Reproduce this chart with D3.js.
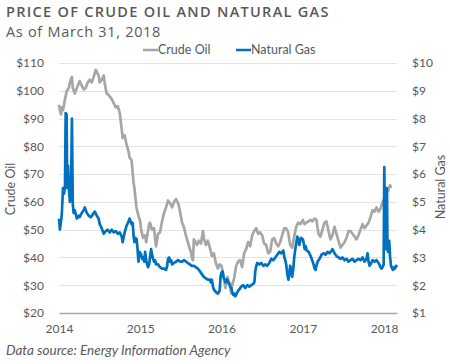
<!DOCTYPE html>
<html>
<head>
<meta charset="utf-8">
<script src="https://cdn.jsdelivr.net/npm/d3@7"></script>
<style>
  body { margin: 0; background: #fff; }
  text { font-family: Lato, "Open Sans", sans-serif; fill: #595959; }
</style>
</head>
<body>
<div id="chart"></div>
<script>
// weekly-ish readings, $ per barrel
var crudeOil = [
  ["2014-01-01",95],["2014-01-05",93],["2014-01-10",91.5],["2014-01-14",94],["2014-01-19",93],["2014-01-28",97],
  ["2014-02-05",100],["2014-02-14",101],["2014-02-19",103],["2014-02-28",105],["2014-03-04",101],["2014-03-13",99],
  ["2014-03-22",101],["2014-04-04",103.5],["2014-04-13",102],["2014-04-22",100.5],["2014-05-01",101],["2014-05-10",103],
  ["2014-05-19",104],["2014-05-28",103],["2014-06-06",105],["2014-06-15",107.5],["2014-06-19",107],["2014-06-28",105.5],
  ["2014-07-03",103],["2014-07-12",104],["2014-07-21",105.5],["2014-07-25",103],["2014-08-03",99],["2014-08-12",98.5],
  ["2014-08-26",97],["2014-09-04",95.5],["2014-09-13",94],["2014-09-22",94.5],["2014-10-01",92],["2014-10-10",86],
  ["2014-10-14",83],["2014-10-23",84],["2014-11-01",80.5],["2014-11-10",78],["2014-11-14",76],["2014-11-23",75],
  ["2014-12-02",67],["2014-12-06",65],["2014-12-15",58],["2014-12-24",55],
  ["2015-01-01",53],["2015-01-05",50],["2015-01-14",47],["2015-01-23",48],["2015-01-28",45.5],["2015-02-01",47.5],
  ["2015-02-10",52],["2015-02-14",52.5],["2015-02-23",50],["2015-03-04",50.5],["2015-03-13",44],["2015-03-22",48.5],
  ["2015-03-31",49],["2015-04-09",53],["2015-04-18",56],["2015-04-27",58],["2015-05-06",60.5],["2015-05-15",59.5],
  ["2015-05-24",58],["2015-06-02",60],["2015-06-11",61],["2015-06-20",59.5],["2015-06-24",58.5],["2015-06-29",56.5],
  ["2015-07-08",52.5],["2015-07-16",51],["2015-07-25",48],["2015-08-03",45.5],["2015-08-12",43],["2015-08-17",42],
  ["2015-08-21",40],["2015-08-26",39],["2015-08-30",46.5],["2015-09-04",46],["2015-09-13",44.5],["2015-09-22",46],
  ["2015-10-01",45],["2015-10-10",49.5],["2015-10-14",47],["2015-10-23",44.5],["2015-11-01",46],["2015-11-10",43.5],
  ["2015-11-19",40.5],["2015-11-28",41.5],["2015-12-07",38],["2015-12-16",36],["2015-12-24",37.5],
  ["2016-01-01",37],["2016-01-10",33.5],["2016-01-19",29],["2016-01-28",33],["2016-02-01",31.5],["2016-02-05",31],
  ["2016-02-14",27],["2016-02-18",30],["2016-02-27",32.5],["2016-03-07",37],["2016-03-16",38.5],["2016-03-25",39],
  ["2016-04-03",36.5],["2016-04-12",41.5],["2016-04-21",43],["2016-04-30",45.5],["2016-05-09",44],["2016-05-18",48],
  ["2016-05-27",49.5],["2016-06-05",50.5],["2016-06-14",48.5],["2016-06-23",49],["2016-07-02",48],["2016-07-11",45],
  ["2016-07-20",44.5],["2016-07-29",41.5],["2016-08-07",42],["2016-08-16",46.5],["2016-08-25",47],["2016-09-03",45],
  ["2016-09-12",44],["2016-09-21",45.5],["2016-09-30",48],["2016-10-09",50.5],["2016-10-18",50.5],["2016-10-27",49],
  ["2016-11-05",44.5],["2016-11-14",43.5],["2016-11-23",47.5],["2016-12-02",51],["2016-12-11",52.5],["2016-12-20",52],
  ["2017-01-01",53.5],["2017-01-08",52],["2017-01-17",52.5],["2017-01-26",53],["2017-02-04",53.5],["2017-02-13",53],
  ["2017-02-22",54],["2017-03-03",53.5],["2017-03-12",48.5],["2017-03-21",47.5],["2017-03-30",50],["2017-04-08",52.5],
  ["2017-04-17",53],["2017-04-26",49.5],["2017-05-05",46.5],["2017-05-14",48],["2017-05-23",51],["2017-06-01",48.5],
  ["2017-06-10",46],["2017-06-19",43.5],["2017-06-28",44.5],["2017-07-07",45.5],["2017-07-16",47],["2017-07-25",49.5],
  ["2017-08-03",49.5],["2017-08-12",48.5],["2017-08-21",47.5],["2017-08-30",46.5],["2017-09-08",48],["2017-09-17",50],
  ["2017-09-26",52],["2017-10-05",50.5],["2017-10-14",51.5],["2017-10-23",52.5],["2017-11-01",54.5],["2017-11-10",57],
  ["2017-11-19",56.5],["2017-11-28",58],["2017-12-07",56.5],["2017-12-16",57.5],["2017-12-25",60],
  ["2018-01-01",61],["2018-01-10",63.5],["2018-01-19",64],["2018-01-24",65.5],["2018-01-28",66],["2018-02-01",65]
];

// $ per MMBtu
var naturalGas = [
  ["2014-01-01",4.4],["2014-01-05",4.0],["2014-01-10",4.3],["2014-01-14",4.6],["2014-01-19",5.5],["2014-01-24",5.3],
  ["2014-01-28",5.6],["2014-01-31",8.2],["2014-02-04",8.15],["2014-02-07",5.5],["2014-02-11",6.3],["2014-02-15",5.4],
  ["2014-02-19",5.0],["2014-02-24",5.2],["2014-02-28",8.0],["2014-03-04",4.9],["2014-03-08",4.6],["2014-03-13",4.7],
  ["2014-03-22",4.4],["2014-03-31",4.5],["2014-04-04",4.45],["2014-04-13",4.6],["2014-04-22",4.7],["2014-04-27",4.8],
  ["2014-05-06",4.6],["2014-05-15",4.5],["2014-05-24",4.45],["2014-06-02",4.55],["2014-06-11",4.65],["2014-06-20",4.5],
  ["2014-06-28",4.4],["2014-07-03",4.2],["2014-07-12",4.05],["2014-07-21",3.85],["2014-07-30",3.95],["2014-08-08",4.0],
  ["2014-08-17",3.9],["2014-08-26",4.0],["2014-09-04",3.9],["2014-09-13",3.95],["2014-09-22",3.85],["2014-10-01",3.9],
  ["2014-10-10",3.75],["2014-10-14",3.55],["2014-10-23",3.9],["2014-11-01",4.15],["2014-11-10",4.3],["2014-11-14",4.4],
  ["2014-11-23",4.2],["2014-11-28",4.25],["2014-12-02",3.8],["2014-12-06",3.55],["2014-12-11",3.7],["2014-12-16",3.65],
  ["2014-12-20",3.3],["2014-12-24",2.85],["2014-12-29",3.2],
  ["2015-01-05",3.1],["2015-01-10",2.95],["2015-01-14",3.0],["2015-01-19",2.85],["2015-01-23",3.2],["2015-01-28",2.9],
  ["2015-02-01",2.75],["2015-02-05",2.65],["2015-02-10",2.75],["2015-02-14",3.0],["2015-02-19",3.3],["2015-02-23",3.1],
  ["2015-02-28",2.95],["2015-03-04",2.85],["2015-03-09",2.9],["2015-03-13",2.75],["2015-03-22",2.75],["2015-03-31",2.65],
  ["2015-04-09",2.6],["2015-04-18",2.6],["2015-04-27",2.55],["2015-05-02",2.7],["2015-05-06",2.95],["2015-05-11",3.0],
  ["2015-05-15",2.85],["2015-05-20",2.9],["2015-05-24",2.75],["2015-06-02",2.8],["2015-06-11",2.85],["2015-06-20",2.9],
  ["2015-06-29",2.85],["2015-07-08",2.85],["2015-07-17",2.9],["2015-07-26",2.85],["2015-08-03",2.8],["2015-08-12",2.75],
  ["2015-08-21",2.7],["2015-08-30",2.7],["2015-09-08",2.65],["2015-09-17",2.6],["2015-09-26",2.5],["2015-10-05",2.4],
  ["2015-10-14",2.3],["2015-10-23",2.25],["2015-11-01",2.2],["2015-11-10",2.2],["2015-11-14",2.1],["2015-11-19",2.2],
  ["2015-11-24",1.95],["2015-11-28",1.85],["2015-12-07",1.75],["2015-12-16",1.7],["2015-12-24",1.8],["2015-12-28",2.3],
  ["2016-01-01",2.45],["2016-01-06",2.5],["2016-01-10",2.3],["2016-01-15",2.2],["2016-01-19",2.1],["2016-01-24",2.2],
  ["2016-01-28",2.2],["2016-02-01",2.1],["2016-02-05",2.05],["2016-02-10",1.95],["2016-02-14",1.9],["2016-02-19",1.75],
  ["2016-02-23",1.65],["2016-02-28",1.7],["2016-03-03",1.6],["2016-03-07",1.65],["2016-03-12",1.75],["2016-03-21",1.85],
  ["2016-03-30",1.95],["2016-04-08",2.0],["2016-04-17",1.9],["2016-04-26",2.0],["2016-05-05",1.95],["2016-05-14",2.0],
  ["2016-05-23",2.05],["2016-05-28",2.1],["2016-06-01",2.5],["2016-06-06",2.7],["2016-06-10",2.8],["2016-06-19",2.75],
  ["2016-06-28",2.8],["2016-07-07",2.7],["2016-07-16",2.75],["2016-07-25",2.7],["2016-08-03",2.8],["2016-08-12",2.95],
  ["2016-08-21",2.9],["2016-08-30",3.0],["2016-09-08",3.1],["2016-09-17",3.2],["2016-09-26",3.15],["2016-10-05",3.25],
  ["2016-10-10",3.0],["2016-10-14",2.9],["2016-10-19",2.7],["2016-10-23",2.4],["2016-10-28",2.2],["2016-11-01",2.4],
  ["2016-11-05",2.7],["2016-11-10",2.5],["2016-11-14",2.3],["2016-11-19",2.6],["2016-11-23",3.0],["2016-11-28",3.3],
  ["2016-12-02",3.5],["2016-12-07",3.75],["2016-12-11",3.7],["2016-12-16",3.45],["2016-12-20",3.6],["2016-12-25",3.7],
  ["2017-01-01",3.65],["2017-01-05",3.5],["2017-01-09",3.3],["2017-01-14",3.4],["2017-01-18",3.25],["2017-01-27",3.2],
  ["2017-02-05",3.05],["2017-02-14",2.85],["2017-02-18",2.75],["2017-02-23",2.6],["2017-02-27",2.55],["2017-03-03",2.7],
  ["2017-03-08",2.85],["2017-03-17",2.95],["2017-03-26",3.1],["2017-04-04",3.15],["2017-04-13",3.1],["2017-04-22",3.2],
  ["2017-05-01",3.15],["2017-05-10",3.25],["2017-05-14",3.3],["2017-05-23",3.15],["2017-06-01",3.05],["2017-06-10",3.0],
  ["2017-06-19",2.95],["2017-06-28",3.0],["2017-07-07",2.9],["2017-07-16",2.95],["2017-07-25",2.85],["2017-08-03",2.9],
  ["2017-08-12",2.95],["2017-08-21",2.85],["2017-08-30",2.9],["2017-09-08",2.95],["2017-09-17",2.9],["2017-09-26",3.0],
  ["2017-10-05",2.85],["2017-10-14",2.95],["2017-10-19",3.15],["2017-10-23",2.85],["2017-10-28",2.7],["2017-11-01",2.75],
  ["2017-11-10",2.9],["2017-11-19",2.85],["2017-11-28",2.9],["2017-12-07",2.8],["2017-12-16",2.65],["2017-12-21",2.6],
  ["2017-12-25",2.65],["2017-12-30",2.75],
  ["2018-01-02",6.25],["2018-01-04",4.5],["2018-01-06",5.4],["2018-01-08",4.0],["2018-01-10",3.3],["2018-01-12",5.5],
  ["2018-01-14",5.4],["2018-01-16",3.4],["2018-01-19",3.2],["2018-01-24",3.6],["2018-01-28",3.0],["2018-02-01",2.7],
  ["2018-02-06",2.6],["2018-02-10",2.55],["2018-02-15",2.65],["2018-02-19",2.6],["2018-02-24",2.7],["2018-02-28",2.65]
];

var crudeTicks = [20, 30, 40, 50, 60, 70, 80, 90, 100, 110];
var gasTicks = [1, 2, 3, 4, 5, 6, 7, 8, 9, 10];
var yearTicks = ["2014-01-01", "2015-01-01", "2016-01-01", "2017-01-01", "2018-01-01"];
var seriesNames = ["Crude Oil", "Natural Gas"];
var seriesColors = ["#a6a6a6", "#0070c0"];

var width = 450,
  height = 364,
  svg = d3
    .select("#chart")
    .append("svg")
    .attr("width", width)
    .attr("height", height);

var margin = { top: 63, right: 53, bottom: 51, left: 59 },
  iwidth = width - margin.left - margin.right,
  iheight = height - margin.top - margin.bottom;

var parse = d3.timeParse("%Y-%m-%d");

var x = d3.scaleTime()
  .domain([parse("2014-01-01"), parse("2018-02-28")])
  .range([0, iwidth]);
var yOil = d3.scaleLinear().domain([20, 110]).range([iheight, 0]);
var yGas = d3.scaleLinear().domain([1, 10]).range([iheight, 0]);

var g = svg.append("g")
  .attr("transform", `translate(${margin.left}, ${margin.top})`);

// gridlines
g.append("g")
  .selectAll("line")
  .data(crudeTicks.slice(1))
  .enter()
  .append("line")
  .attr("x1", 0)
  .attr("x2", iwidth)
  .attr("y1", d => Math.round(yOil(d)) + 0.5)
  .attr("y2", d => Math.round(yOil(d)) + 0.5)
  .attr("stroke", "#e3e3e3")
  .attr("stroke-width", 1);

// left axis
var leftAxis = g.append("g")
  .call(d3.axisLeft(yOil).tickValues(crudeTicks).tickFormat(d => "$" + d).tickSize(0).tickPadding(15));
leftAxis.select(".domain").remove();
leftAxis.selectAll("text").style("font-size", "12px").style("fill", "#595959");

// right axis
var rightAxis = g.append("g")
  .attr("transform", `translate(${iwidth},0)`)
  .call(d3.axisRight(yGas).tickValues(gasTicks).tickFormat(d => "$" + d).tickSize(0).tickPadding(15));
rightAxis.select(".domain").remove();
rightAxis.selectAll("text").style("font-size", "12px").style("fill", "#595959");

// bottom axis
var bottomAxis = g.append("g")
  .attr("transform", `translate(0,${iheight})`)
  .call(d3.axisBottom(x).tickValues(yearTicks.map(parse)).tickFormat(d3.timeFormat("%Y")).tickSize(0).tickPadding(11));
bottomAxis.select(".domain").attr("stroke", "#a6a6a6").attr("stroke-width", 1.5);
bottomAxis.selectAll("text").style("font-size", "12px").style("fill", "#595959");

// lines
var oilLine = d3.line()
  .x(d => x(parse(d[0])))
  .y(d => yOil(d[1]));
var gasLine = d3.line()
  .x(d => x(parse(d[0])))
  .y(d => yGas(d[1]));

g.append("path")
  .datum(crudeOil)
  .attr("fill", "none")
  .attr("stroke", seriesColors[0])
  .attr("stroke-width", 2.7)
  .attr("stroke-linejoin", "round")
  .attr("d", oilLine);

g.append("path")
  .datum(naturalGas)
  .attr("fill", "none")
  .attr("stroke", seriesColors[1])
  .attr("stroke-width", 2.7)
  .attr("stroke-linejoin", "round")
  .attr("d", gasLine);

// titles
svg.append("text")
  .attr("x", 6)
  .attr("y", 17)
  .style("font-family", "'Open Sans', sans-serif")
  .style("font-size", "14.5px")
  .style("font-weight", "600")
  .style("letter-spacing", "1.3px")
  .text("PRICE OF CRUDE OIL AND NATURAL GAS");

svg.append("text")
  .attr("x", 6)
  .attr("y", 37)
  .style("font-family", "'Open Sans', sans-serif")
  .style("font-size", "14.5px")
  .style("letter-spacing", "0.7px")
  .text("As of March 31, 2018");

// legend
var legendX = [143, 236];
var legend = svg.selectAll(".legend")
  .data(seriesNames)
  .enter()
  .append("g")
  .attr("class", "legend")
  .attr("transform", (d, i) => `translate(${legendX[i]}, 50)`);
legend.append("line")
  .attr("x1", 0).attr("x2", 15)
  .attr("stroke", (d, i) => seriesColors[i])
  .attr("stroke-width", 2.5);
legend.append("text")
  .attr("x", 15)
  .attr("dy", "0.35em")
  .style("font-size", "12.5px")
  .text(d => d);

// axis titles
svg.append("text")
  .attr("transform", "translate(15, 189) rotate(-90)")
  .attr("text-anchor", "middle")
  .style("font-size", "12.5px")
  .text("Crude Oil");

svg.append("text")
  .attr("transform", "translate(445, 187) rotate(-90)")
  .attr("text-anchor", "middle")
  .style("font-size", "12.5px")
  .text("Natural Gas");

// source
svg.append("text")
  .attr("x", 6)
  .attr("y", 355)
  .style("font-size", "13.5px")
  .style("font-style", "italic")
  .text("Data source: Energy Information Agency");
</script>
</body>
</html>
